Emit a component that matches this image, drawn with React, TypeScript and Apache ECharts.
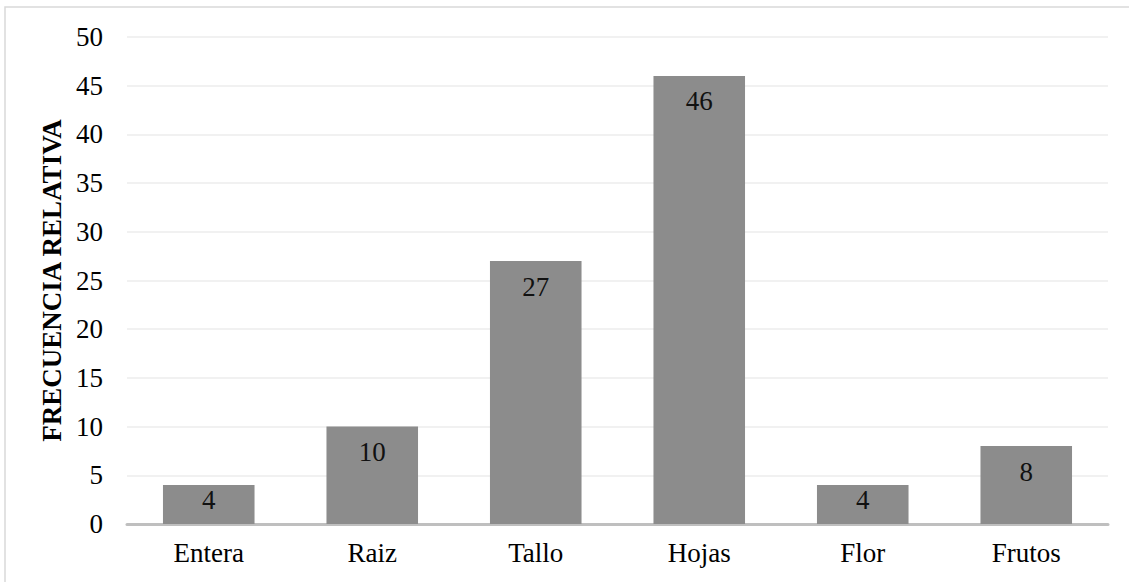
import React, { useEffect, useRef } from "react";
import * as echarts from "echarts";

const categories = ["Entera", "Raiz", "Tallo", "Hojas", "Flor", "Frutos"];
const values = [4, 10, 27, 46, 4, 8];
const yTicks = { min: 0, max: 50, interval: 5 };
const yTitle = "FRECUENCIA RELATIVA";

export default function App() {
  const ref = useRef<HTMLDivElement>(null);
  useEffect(() => {
    document.body.style.margin = "0";
    const chart = echarts.init(ref.current!, null, { renderer: "svg" });
    const font = "Liberation Serif";
    chart.setOption({
      animation: false,
      backgroundColor: "#ffffff",
      textStyle: { fontFamily: font },
      graphic: [
        {
          type: "rect",
          shape: { x: 5, y: 7, width: 1140, height: 600 },
          style: { fill: "none", stroke: "#d9d9d9", lineWidth: 1.5 },
          silent: true,
        },
      ],
      grid: { left: 127, right: 21, top: 37, bottom: 58 },
      xAxis: {
        type: "category",
        data: categories,
        axisLine: { lineStyle: { color: "#bfbfbf", width: 3 } },
        axisTick: { show: false },
        axisLabel: { fontFamily: font, fontSize: 27, color: "#000", margin: 15 },
      },
      yAxis: {
        type: "value",
        min: yTicks.min,
        max: yTicks.max,
        interval: yTicks.interval,
        name: yTitle,
        nameLocation: "middle",
        nameGap: 62,
        nameTextStyle: { fontFamily: font, fontSize: 27, fontWeight: "bold", color: "#000" },
        axisLine: { show: false },
        axisTick: { show: false },
        axisLabel: { fontFamily: font, fontSize: 27, color: "#000", margin: 24 },
        splitLine: { lineStyle: { color: "#ececec", width: 1.5 } },
      },
      series: [
        {
          type: "bar",
          data: values.map((v) => ({
            value: v,
            label: { distance: v < 5 ? 1 : 12 },
          })),
          barCategoryGap: "44%",
          itemStyle: { color: "#8c8c8c" },
          label: {
            show: true,
            position: "insideTop",
            fontFamily: font,
            fontSize: 27,
            color: "#111",
          },
        },
      ],
    });
    return () => chart.dispose();
  }, []);
  return <div ref={ref} style={{ width: 1129, height: 582 }} />;
}
